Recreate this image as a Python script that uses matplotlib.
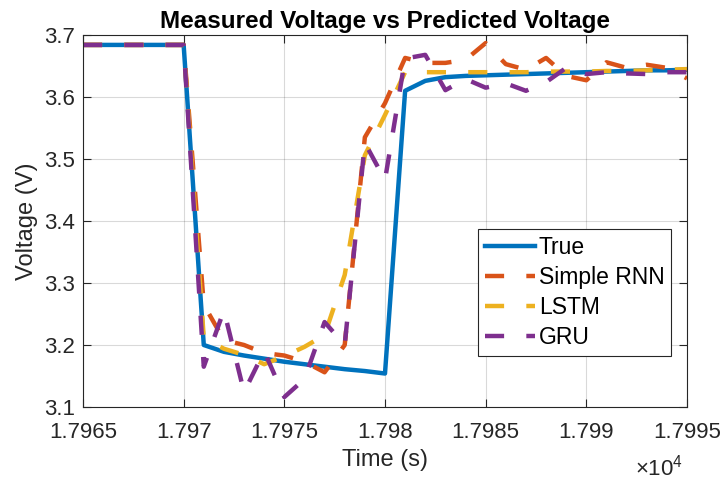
import matplotlib
matplotlib.use("Agg")
import matplotlib.pyplot as plt
from matplotlib.ticker import FuncFormatter

plt.rcParams['font.family'] = ['Liberation Sans', 'DejaVu Sans']
plt.rcParams['mathtext.fontset'] = 'custom'
plt.rcParams['mathtext.rm'] = 'Liberation Sans'
plt.rcParams['mathtext.it'] = 'Liberation Sans'

# time axis (s), one sample per second
time_s = [17965, 17966, 17967, 17968, 17969, 17970, 17971, 17972, 17973, 17974,
          17975, 17976, 17977, 17978, 17979, 17980, 17981, 17982, 17983, 17984,
          17985, 17986, 17987, 17988, 17989, 17990, 17991, 17992, 17993, 17994,
          17995]

v_true = [3.684, 3.684, 3.684, 3.684, 3.684, 3.684, 3.200, 3.189, 3.183, 3.178,
          3.173, 3.169, 3.165, 3.161, 3.158, 3.154, 3.610, 3.626, 3.632, 3.634,
          3.635, 3.636, 3.637, 3.638, 3.639, 3.640, 3.641, 3.642, 3.643, 3.643,
          3.644]

v_rnn = [3.684, 3.684, 3.684, 3.684, 3.684, 3.684, 3.265, 3.208, 3.200, 3.187,
         3.183, 3.173, 3.156, 3.200, 3.535, 3.590, 3.663, 3.655, 3.655, 3.660,
         3.687, 3.653, 3.644, 3.663, 3.634, 3.627, 3.656, 3.647, 3.652, 3.647,
         3.630]

v_lstm = [3.684, 3.684, 3.684, 3.684, 3.684, 3.684, 3.211, 3.194, 3.184, 3.169,
          3.182, 3.197, 3.216, 3.313, 3.506, 3.571, 3.640, 3.640, 3.640, 3.640,
          3.640, 3.640, 3.640, 3.641, 3.641, 3.641, 3.642, 3.642, 3.643, 3.644,
          3.645]

v_gru = [3.684, 3.684, 3.684, 3.684, 3.684, 3.684, 3.165, 3.256, 3.124, 3.190,
         3.116, 3.145, 3.237, 3.200, 3.526, 3.466, 3.662, 3.668, 3.611, 3.629,
         3.615, 3.622, 3.610, 3.624, 3.647, 3.637, 3.640, 3.638, 3.637, 3.640,
         3.640]

fig = plt.figure(figsize=(7.24, 4.82), dpi=100)
ax = fig.add_axes([0.1146, 0.1556, 0.8343, 0.7718])

dash = (0, (4.3, 5.0))
ax.plot(time_s, v_true, color='#0072BD', lw=3.2, label='True', solid_joinstyle='round')
ax.plot(time_s, v_rnn, color='#D95319', lw=3.2, ls=dash, label='Simple RNN')
ax.plot(time_s, v_lstm, color='#EDB120', lw=3.2, ls=dash, label='LSTM')
ax.plot(time_s, v_gru, color='#7E2F8E', lw=3.2, ls=dash, label='GRU')

ax.set_xlim(17965, 17995)
ax.set_ylim(3.1, 3.7)
ax.set_xticks([17965, 17970, 17975, 17980, 17985, 17990, 17995])
ax.set_yticks([3.1, 3.2, 3.3, 3.4, 3.5, 3.6, 3.7])
ax.xaxis.set_major_formatter(FuncFormatter(lambda v, p: f"{v / 1e4:g}"))
ax.yaxis.set_major_formatter(FuncFormatter(lambda v, p: f"{v:g}"))

ax.grid(True, color='#000000', alpha=0.15, lw=0.8)
ax.tick_params(direction='in', length=6, width=0.8, labelsize=16,
               top=True, right=True, colors='#262626', labelcolor='#262626')
ax.tick_params(axis='x', pad=11)
ax.tick_params(axis='y', pad=6)
for s in ax.spines.values():
    s.set_color('#262626')
    s.set_linewidth(0.8)

ax.set_xlabel('Time (s)', fontsize=17, color='#262626', labelpad=4)
ax.set_ylabel('Voltage (V)', fontsize=17, color='#262626', labelpad=4)
ax.set_title('Measured Voltage vs Predicted Voltage', fontsize=17.5,
             fontweight='bold', pad=5)
fig.text(0.877, 0.014, r'$\times10^{4}$', fontsize=16, color='#262626')

leg = ax.legend(loc='upper left', bbox_to_anchor=(0.654, 0.478),
                borderaxespad=0, fontsize=16.5, handlelength=2.2,
                fancybox=False, edgecolor='#262626', framealpha=1,
                labelspacing=0.3, handletextpad=0.15, borderpad=0.3)
leg.get_frame().set_linewidth(0.8)

fig.savefig('out.png', dpi=100)
